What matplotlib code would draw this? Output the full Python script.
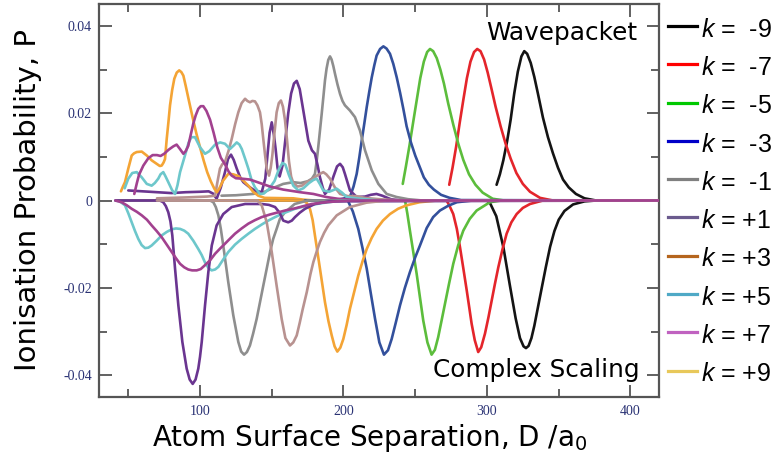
import matplotlib
matplotlib.use("Agg")
import matplotlib.pyplot as plt
from matplotlib.lines import Line2D

# P values below in thousandths (x 1e-3)
P_UNIT = 1e-3

# ---------------- Wavepacket curves (P > 0): (D, P) pairs ----------------
wp_m9 = [(306.7, 3.6), (309.0, 6.0), (311.4, 9.2), (314.0, 13.5), (316.5, 18.5), (319.0, 24.5),
         (321.5, 29.5), (324.0, 33.0), (326.0, 34.2), (328.0, 33.6), (330.5, 31.5), (333.0, 28.3),
         (335.5, 24.5), (339.0, 19.0), (342.5, 14.5), (346.0, 10.8), (349.5, 7.5), (353.0, 4.8),
         (357.0, 3.0), (362.0, 1.5), (368.0, 0.5), (376.0, 0.0), (420.0, 0.0)]
wp_m7 = [(273.7, 3.6), (276.0, 7.5), (278.5, 12.3), (281.0, 17.8), (283.5, 23.0), (286.0, 28.0),
         (288.5, 31.8), (291.0, 34.0), (293.2, 34.7), (295.5, 34.2), (298.0, 32.3), (300.5, 29.3),
         (303.0, 25.8), (306.0, 21.5), (309.5, 17.0), (313.0, 13.0), (316.5, 9.6), (320.5, 6.3),
         (325.0, 3.8), (330.0, 2.0), (337.0, 0.6), (346.0, 0.0), (420.0, 0.0)]
wp_m5 = [(241.3, 3.8), (243.5, 7.8), (246.0, 12.6), (248.5, 17.8), (251.0, 22.9), (253.5, 28.0),
         (256.0, 31.8), (258.3, 34.0), (260.3, 34.7), (262.5, 34.2), (265.0, 32.6), (267.5, 30.0),
         (270.0, 26.8), (273.0, 22.2), (276.5, 17.4), (280.0, 13.0), (283.5, 9.3), (287.5, 6.0),
         (292.0, 3.6), (297.0, 1.8), (304.0, 0.4), (312.0, 0.0), (420.0, 0.0)]
wp_m3 = [(198.0, 0.3), (204.5, 0.8), (207.0, 3.2), (209.2, 6.1), (211.0, 9.8), (212.7, 13.7),
         (214.5, 17.6), (216.2, 21.4), (218.0, 25.0), (219.7, 28.2), (221.5, 31.0), (223.1, 33.2),
         (225.5, 34.7), (227.8, 35.3), (230.0, 34.8), (232.4, 33.6), (234.7, 31.3), (237.1, 28.2),
         (239.5, 24.6), (241.7, 21.0), (244.0, 17.0), (247.0, 13.3), (250.0, 10.3), (253.0, 7.8),
         (256.0, 5.3), (259.5, 3.6), (263.0, 2.5), (268.0, 1.3), (274.0, 0.6), (282.0, 0.1),
         (420.0, 0.0)]
wp_m1 = [(115, 1.1), (125, 1.2), (137, 1.5), (145, 2.0), (152, 3.0), (158, 3.8), (165, 4.2),
         (170, 4.0), (175, 4.4), (178, 5.0), (180.1, 6.1), (181.3, 9.0), (182.4, 12.2), (183.6, 16.0),
         (184.8, 19.8), (186.0, 23.8), (187.1, 27.5), (188.2, 30.2), (189.4, 32.2), (190.6, 33.0),
         (191.7, 32.3), (192.9, 30.8), (194.1, 29.0), (195.8, 26.6), (197.6, 24.4), (199.3, 22.8),
         (201.0, 21.8), (204.5, 20.6), (208.0, 19.1), (211.5, 16.0), (215.0, 11.5), (219.7, 6.9),
         (224.3, 3.8), (230.1, 1.5), (237.0, 0.8), (245.0, 0.3), (255.0, 0.0), (420.0, 0.0)]
wp_p1 = [(50, 2.3), (60, 2.1), (70, 1.9), (80, 1.7), (90, 1.9), (100, 2.0), (106, 2.1), (109, 1.6),
         (111.6, 0.4), (114.5, 3.0), (117.4, 6.5), (119.5, 9.5), (121.6, 10.5), (123.5, 9.3),
         (125.6, 7.3), (128, 5.3), (130.2, 4.2), (134, 3.2), (138, 2.3), (143, 1.9), (145.5, 5.0),
         (147, 10.3), (148.5, 15.5), (150, 17.9), (151.5, 15.0), (152.7, 11.8), (154, 7.5),
         (155.5, 5.5), (157.5, 8.0), (159.5, 14.0), (161.5, 20.0), (163.5, 24.5), (165.5, 26.8),
         (167.4, 27.4), (169.5, 25.5), (172, 20.6), (175.5, 13.7), (178, 11.5), (180.1, 10.7),
         (182, 8.0), (183.6, 5.3), (185.5, 3.0), (187.1, 1.5), (190, 2.5), (193, 5.5), (195.5, 7.8),
         (197.6, 8.4), (199.5, 7.6), (201, 6.1), (204.5, 2.3), (209.2, 0.8), (215, 0.9), (219, 1.3),
         (223, 1.5), (227, 1.1), (233, 0.3), (240, 0.0), (420, 0.0)]
wp_p3 = [(70, 0.5), (90, 0.7), (105, 0.9), (110.5, 1.1), (112, 4.0), (113.9, 7.3), (115.5, 8.3),
         (117.4, 8.8), (120, 11.5), (122.1, 14.1), (124.5, 17.5), (126.7, 20.2), (129, 22.3),
         (131.4, 23.3), (133, 22.8), (134.8, 22.5), (136.5, 22.8), (138.3, 22.7), (140, 21.8),
         (141.8, 20.2), (143, 17.5), (144.1, 14.1), (145.3, 10.5), (146.5, 7.3), (148.1, 5.7),
         (149.3, 7.5), (150.4, 10.3), (151.9, 15.5), (153.4, 20.2), (154.9, 22.3), (156.4, 22.9),
         (157.8, 21.5), (159.2, 18.5), (160.6, 14.0), (162, 9.0), (163.5, 5.5), (165, 4.0),
         (168, 3.2), (171, 3.4), (174.3, 4.2), (178, 4.8), (182, 5.8), (185.9, 6.5), (188, 6.0),
         (190.6, 5.0), (194, 3.0), (197.6, 1.5), (203, 1.0), (209, 1.0), (215, 0.6), (225, 0.3),
         (240, 0.0), (420, 0.0)]
wp_p5 = [(47.5, 2.8), (50, 5.0), (52.8, 6.3), (55.9, 6.5), (59.4, 5.3), (62.9, 3.8), (66.3, 3.4),
         (68.5, 4.0), (70.9, 5.0), (72.5, 6.0), (74.4, 6.5), (76, 5.5), (77.9, 4.2), (80.5, 2.4),
         (82.6, 1.5), (84.3, 3.5), (86.1, 6.5), (89.5, 10.3), (92, 13.2), (94, 14.5), (96.5, 14.5),
         (98.5, 13.2), (100, 12.2), (103.5, 10.7), (106.5, 11.3), (110.5, 12.8), (114, 13.3),
         (117.4, 13.0), (120.9, 11.8), (123.5, 12.6), (125.6, 13.3), (127.5, 12.8), (129.1, 11.8),
         (131.5, 9.5), (133.7, 7.3), (136, 4.6), (138.3, 3.0), (141.8, 1.5), (144.5, 1.6),
         (148, 2.6), (152, 4.5), (155, 7.2), (157.5, 8.6), (159.5, 8.2), (162, 5.8), (165, 3.4),
         (168.5, 2.3), (172, 2.8), (176, 4.0), (179, 4.7), (181.3, 5.0), (183.5, 3.8), (185.9, 2.3),
         (190, 2.0), (195.3, 2.7), (199, 1.8), (202.2, 0.8), (206, 0.6), (215, 0.3), (225, 0.0),
         (420, 0.0)]
wp_p7 = [(54.2, 1.5), (56, 4.0), (57.5, 5.9), (60.5, 8.0), (64, 9.7), (67, 10.4), (70, 10.4),
         (72.5, 10.2), (75, 10.7), (78, 11.6), (81.4, 12.4), (83.7, 12.8), (86, 11.8), (88.4, 10.7),
         (90, 11.3), (91.8, 12.5), (93.5, 15.0), (95.3, 17.6), (97, 19.5), (98.8, 21.0), (100.5, 21.6),
         (102.3, 21.6), (104.5, 20.5), (107, 18.5), (109.5, 15.5), (112, 12.2), (114.5, 9.8),
         (117.4, 8.3), (120, 6.6), (122.1, 5.7), (125, 5.1), (129.1, 5.0), (134.8, 4.8), (141.8, 4.0),
         (148.8, 3.2), (158, 2.5), (169.7, 1.9), (179, 1.5), (188, 0.8), (196, 0.4), (205, 0.2),
         (215, 0.0), (420, 0.0)]
wp_p9 = [(44.9, 2.1), (46.3, 3.2), (47.7, 4.2), (50, 7.3), (52.4, 10.3), (54, 10.8), (55.9, 11.1),
         (59.4, 11.2), (62.9, 10.3), (66.3, 9.2), (69.8, 8.4), (72, 7.9), (73.3, 8.0), (74.6, 8.7),
         (75.6, 9.5), (76.8, 14.1), (78, 18.0), (79.1, 21.8), (80.6, 25.3), (82.1, 27.9), (83.8, 29.3),
         (85.5, 29.8), (87, 29.4), (88.4, 28.6), (90, 26.3), (92.5, 22.5), (95, 18.8), (97.5, 15.3),
         (100, 12.2), (102.5, 9.2), (105, 6.5), (107.5, 4.4), (110, 2.7), (111.8, 1.9), (113.5, 2.8),
         (116, 4.5), (119.7, 6.1), (123, 6.0), (126.7, 5.6), (130, 4.6), (133.7, 3.4), (137, 2.0),
         (140.6, 1.1), (145, 0.6), (165, 0.5), (172, 0.2), (180, 0.0), (420, 0.0)]

# ---------------- Complex scaling curves (P < 0): (D, P) pairs ----------------
cs_m9 = [(42, 0), (299.8, 0), (302, -0.5), (306.5, -3.6), (311.5, -10.8), (316, -19.5), (320, -27.0),
         (323, -31.5), (325.5, -33.4), (327.2, -33.8), (329, -33.3), (331, -31.5), (333, -28.7),
         (335.5, -24.5), (338, -20.3), (341, -15.3), (344, -10.6), (347, -7.0), (350, -4.4),
         (354, -2.4), (360, -0.9), (368, -0.2), (376, 0), (420, 0)]
cs_m7 = [(42, 0), (271.9, 0), (274, -1.3), (276.5, -3.1), (279, -6.5), (281.2, -10.7), (283.5, -15.5),
         (285.9, -20.6), (287.7, -24.6), (289.3, -28.2), (291.5, -32.0), (293.9, -34.7), (296, -33.6),
         (298.6, -30.5), (301, -26.8), (303.3, -22.9), (305.6, -19.0), (307.9, -15.3), (310.8, -11.2),
         (313.7, -7.6), (317, -5.0), (320.7, -3.1), (325, -1.7), (330, -0.8), (339, 0), (420, 0)]
cs_m5 = [(42, 0), (242.9, 0), (244.5, -3.0), (246.3, -6.9), (248.5, -11.5), (251, -16.8), (253.3, -22.2),
         (255.6, -27.5), (258.5, -32.5), (261.4, -35.3), (263.7, -34.2), (266, -31.3), (268.3, -27.6),
         (270.7, -23.7), (273.6, -19.0), (276.5, -14.5), (280, -10.2), (283.5, -6.9), (288, -4.2),
         (292.8, -2.3), (302, -0.4), (310, 0), (420, 0)]
cs_m3 = [(42, 0), (203, 0), (206.5, -2.5), (210.3, -6.5), (213.2, -10.8), (216.2, -15.6), (219, -21.2),
         (222, -27.1), (225, -32.5), (228.2, -35.3), (231, -34.3), (233.6, -31.7), (236.5, -27.9),
         (239.4, -24.0), (242.8, -20.0), (246.3, -16.4), (250, -13.0), (253.3, -10.3), (258, -6.3),
         (262.5, -3.8), (267.2, -2.3), (273, -1.2), (279, -0.4), (290, 0), (420, 0)]
cs_m1 = [(42, 0), (172, 0), (174.5, -0.6), (176.7, -2.0), (178.5, -4.5), (180.1, -8.0), (183.6, -15.6),
         (187.1, -23.3), (189.5, -27.6), (191.8, -30.9), (193.8, -33.4), (195.7, -34.6), (197.8, -33.7),
         (199.9, -31.7), (202.2, -28.5), (204.5, -24.8), (207.4, -21.0), (210.3, -17.2), (213.2, -14.0),
         (216.2, -11.1), (219.6, -8.6), (223.1, -6.5), (227.5, -4.6), (232.4, -3.1), (238, -1.9),
         (244, -1.1), (253, -0.4), (265, 0), (420, 0)]
cs_p1 = [(70, 0), (140, 0), (143, -1.1), (146.5, -5.0), (150, -11.8), (153.4, -19.5), (156.9, -27.1),
         (159.5, -31.5), (162.7, -33.2), (165, -32.5), (167.4, -30.9), (169.5, -28.0), (171.5, -25.0),
         (174.4, -21.0), (177, -16.8), (179, -14.1), (181.5, -11.5), (183.6, -9.5), (186.5, -7.4),
         (189.4, -5.7), (195.3, -3.4), (204.5, -1.5), (216, -0.5), (230, 0), (420, 0)]
cs_p3 = [(42, 0), (107, 0), (109.3, -0.4), (111, -1.5), (112.8, -3.4), (114.5, -6.5), (116.2, -10.3),
         (119.7, -18.7), (123.2, -26.3), (126.7, -32.4), (128.7, -34.6), (130.7, -35.3), (132.7, -34.7),
         (134.8, -33.2), (137, -30.5), (139.5, -27.1), (141.8, -23.3), (144.1, -19.5), (146.5, -15.6),
         (148.8, -11.8), (151, -8.8), (153.4, -6.5), (155.7, -4.2), (159.2, -2.7), (166, -0.8),
         (175, 0), (420, 0)]
cs_p5 = [(41, 0), (72, 0), (74.4, -0.4), (76.2, -1.3), (77.9, -2.7), (79.4, -4.8), (80.7, -8.0),
         (82.6, -15.6), (84.9, -24.0), (87.7, -32.4), (90.7, -38.5), (92.8, -41.0), (94.9, -42.0),
         (96.9, -41.0), (98.8, -38.5), (100, -35.8), (101.2, -32.4), (103.5, -24.0), (105.8, -16.4),
         (108.2, -10.3), (111.6, -5.7), (116.2, -3.1), (122.1, -1.5), (131.4, -0.8), (143, -0.8),
         (148, -1.0), (152.3, -1.5), (155.5, -2.8), (158, -4.6), (161.5, -5.0), (164, -4.6),
         (166.2, -3.8), (169.5, -2.8), (173.2, -1.9), (180, -0.8), (190, -0.2), (420, 0)]
cs_p7 = [(41, 0), (44, -0.2), (47.7, -1.1), (50, -2.9), (52.4, -5.0), (54.7, -7.0), (57, -8.8),
         (59.3, -10.2), (61.7, -10.9), (64, -10.8), (66.3, -10.3), (69.8, -9.2), (73.3, -8.0),
         (76.8, -7.2), (80.3, -6.6), (83.2, -6.4), (86.1, -6.5), (89, -6.9), (91.8, -7.6), (95.3, -9.2),
         (98.8, -11.1), (101.2, -12.5), (103.5, -14.2), (105.8, -15.4), (108.1, -16.0), (110.5, -15.8),
         (112.8, -15.2), (116.2, -13.5), (119.7, -11.8), (124.4, -10.1), (129, -8.8), (133.7, -7.6),
         (138.3, -6.5), (143, -5.5), (147.6, -4.6), (152.3, -3.8), (156.9, -3.1), (161.5, -2.5),
         (166.2, -1.9), (172, -1.4), (177.8, -1.0), (185, -0.6), (194, -0.2), (205, 0), (420, 0)]
cs_p9 = [(41, 0), (45.4, -0.4), (49, -1.1), (52.4, -1.9), (56, -2.6), (59.4, -3.4), (63, -4.4),
         (66.3, -5.7), (69.8, -7.0), (73.3, -8.4), (76.8, -10.1), (80.3, -11.8), (83.2, -13.2),
         (86.1, -14.5), (89, -15.3), (91.8, -15.8), (94.5, -16.0), (97.7, -16.0), (100.5, -15.7),
         (103.5, -14.8), (107, -13.7), (110.5, -12.2), (114, -11.0), (117.4, -9.9), (121, -8.7),
         (124.4, -7.6), (129, -6.4), (133.7, -5.3), (138.3, -4.5), (143, -3.8), (148.8, -3.2),
         (154.6, -2.7), (160.4, -2.2), (166.2, -1.8), (172, -1.3), (177.8, -0.8), (185, -0.5),
         (195, -0.2), (205, 0), (420, 0)]

# legend (as drawn at the right of the figure)
legend_labels = [" -9", " -7", " -5", " -3", " -1", "+1", "+3", "+5", "+7", "+9"]
legend_colors = ["#000000", "#ff0000", "#00c800", "#0000c8", "#808080",
                 "#6b5b8e", "#b5651d", "#4fa9c6", "#c062c0", "#e8c85a"]

x_ticks = [100, 200, 300, 400]
x_minor = [50, 150, 250, 350]
y_ticks = [-0.04, -0.02, 0.0, 0.02, 0.04]
y_tick_labels = ["-0.04", "-0.02", "0", "0.02", "0.04"]
y_minor = [-0.03, -0.01, 0.01, 0.03]

# curve colours used inside the plot
C_BLACK, C_RED, C_GREEN, C_BLUE = "#141414", "#e4252b", "#5cbd3c", "#33509c"
C_GRAY, C_PURPLE, C_ROSY = "#8e8e8e", "#6a3590", "#b89290"
C_ORANGE, C_CYAN, C_MAGENTA = "#f4a435", "#6dc7cb", "#a2418f"

plt.rcParams['font.family'] = ['DejaVu Sans']
plt.rcParams['mathtext.fontset'] = 'custom'
plt.rcParams['mathtext.rm'] = 'DejaVu Sans'
plt.rcParams['mathtext.it'] = 'Liberation Sans:italic'

W, H = 775, 457
fig = plt.figure(figsize=(W / 100, H / 100), dpi=100)
ax = fig.add_axes([99 / W, 1 - 397 / H, 560 / W, 393 / H])

def draw(pairs, color, z):
    d = [p[0] for p in pairs]
    v = [p[1] * P_UNIT for p in pairs]
    ax.plot(d, v, color=color, lw=1.9, zorder=z, solid_capstyle='round', solid_joinstyle='round')

wave = [(wp_m9, C_BLACK), (wp_m7, C_RED), (wp_m5, C_GREEN), (wp_m3, C_BLUE), (wp_m1, C_GRAY),
        (wp_p1, C_PURPLE), (wp_p3, C_ROSY), (wp_p9, C_ORANGE), (wp_p5, C_CYAN), (wp_p7, C_MAGENTA)]
cs = [(cs_m9, C_BLACK), (cs_m7, C_RED), (cs_m5, C_GREEN), (cs_m3, C_BLUE), (cs_m1, C_ORANGE),
      (cs_p3, C_GRAY), (cs_p7, C_CYAN), (cs_p5, C_PURPLE), (cs_p1, C_ROSY), (cs_p9, C_MAGENTA)]
for i, (pairs, c) in enumerate(wave):
    draw(pairs, c, 2 + i * 0.01)
for i, (pairs, c) in enumerate(cs):
    draw(pairs, c, 3 + i * 0.01)

ax.set_xlim(29.6, 419.9)
ax.set_ylim(-0.045, 0.045)
ax.set_xticks(x_ticks)
ax.set_xticks(x_minor, minor=True)
ax.set_yticks(y_ticks)
ax.set_yticks(y_minor, minor=True)
tick_color = "#2a3274"
ax.set_xticklabels([str(t) for t in x_ticks], fontfamily='Liberation Serif', fontsize=10, color=tick_color)
ax.set_yticklabels(y_tick_labels, fontfamily='Liberation Serif', fontsize=10, color=tick_color)
ax.tick_params(which='both', direction='in', top=True, right=True, color='#555555', width=1.3)
ax.tick_params(which='major', length=9)
ax.tick_params(which='minor', length=5.5)
ax.tick_params(axis='x', pad=6)
ax.tick_params(axis='y', pad=5)
for s in ax.spines.values():
    s.set_color('#555555')
    s.set_linewidth(1.6)

fig.text(28 / W, 1 - 200 / H, "Ionisation Probability, P", rotation=90, ha='center', va='center',
         fontsize=21)
fig.text(370 / W, 1 - 446 / H, r"Atom Surface Separation, D /a$_0$", ha='center', va='baseline',
         fontsize=20)
fig.text(637 / W, 1 - 40 / H, "Wavepacket", ha='right', va='baseline', fontsize=17.8)
fig.text(640 / W, 1 - 376.5 / H, "Complex Scaling", ha='right', va='baseline', fontsize=17.8)

for i, (lab, col) in enumerate(zip(legend_labels, legend_colors)):
    yc = 26 + i * 38.3
    fig.add_artist(Line2D([668 / W, 697 / W], [1 - yc / H, 1 - yc / H], color=col, lw=2.3,
                          transform=fig.transFigure))
    fig.text(701 / W, 1 - (yc + 10.7) / H, "$k$ = " + lab, ha='left', va='baseline',
             fontsize=18, fontfamily='Liberation Sans')

fig.savefig("out.png", dpi=100)
